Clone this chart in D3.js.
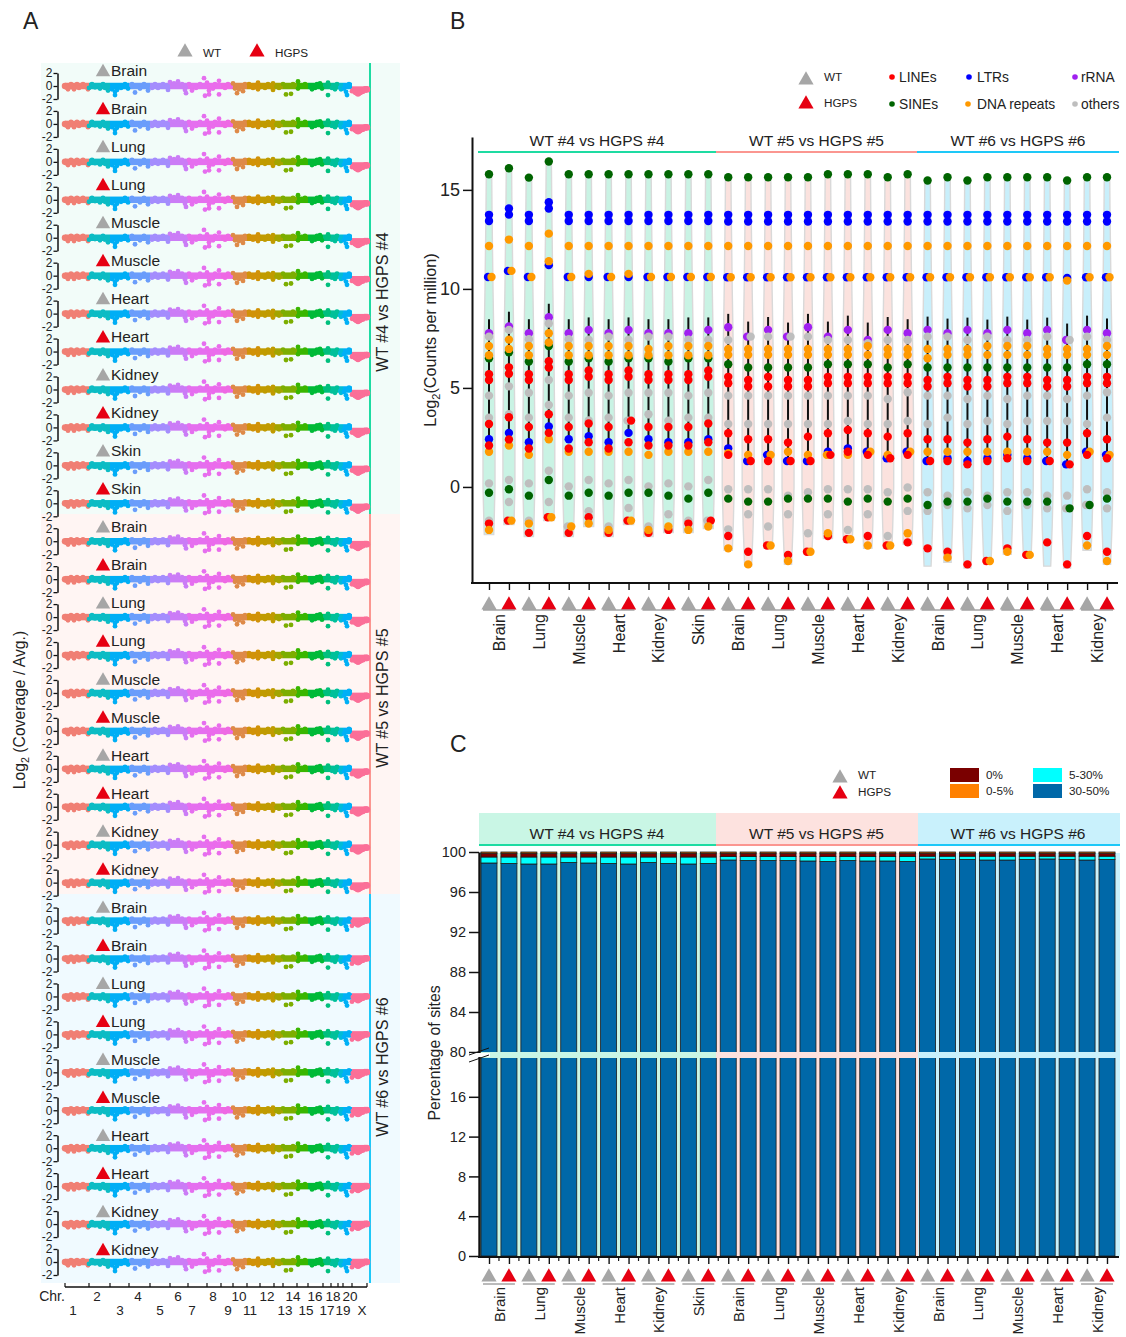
<!DOCTYPE html>
<html>
<head>
<meta charset="utf-8">
<script src="https://cdn.jsdelivr.net/npm/d3@7/dist/d3.min.js"></script>
<style>
body { margin: 0; background: #fff; }
svg { display: block; }
text { font-family: "Liberation Sans", Arial, sans-serif; fill: #222; }
.soft { filter: blur(0.5px); }
</style>
</head>
<body>
<svg id="chart" width="1126" height="1337"></svg>
<script>
// ---- panel A data
var chrNames = ["1","2","3","4","5","6","7","8","9","10","11","12","13","14","15","16","17","18","19","20","X"];
var chrBounds = [0,24,45,64,85,105,123,142,156,168,182,195,209,218,232,243,258,266,273,278,287,302];
var chrLabelAt = [8,32,55,73,95,113,127,148,163,174,185,202,220,228,241,250,262,268,278,285,297];
var chrColors = ["#f07f74","#0cbcc4","#00aef5","#6a9dfb","#a48dfd","#cb7cf6","#e56fef","#ea6cec","#ee69e4","#de8a48","#d19208","#c09b00","#a3a500","#7cae00","#39b600","#00ba38","#00bf7d","#00c09a","#00bcd8","#00b0f6","#fb6f98"];
var rowTissues = ["Brain","Brain","Lung","Lung","Muscle","Muscle","Heart","Heart","Kidney","Kidney","Skin","Skin",
  "Brain","Brain","Lung","Lung","Muscle","Muscle","Heart","Heart","Kidney","Kidney",
  "Brain","Brain","Lung","Lung","Muscle","Muscle","Heart","Heart","Kidney","Kidney"];
var groupNames = ["WT #4 vs HGPS #4","WT #5 vs HGPS #5","WT #6 vs HGPS #6"];
var groupSizes = [12,10,10];
var xLevels = [-0.55,-0.45,0];
// [position along genome, log2 value]
var manhattanBumps = [[1,-0.2],[3,-0.5],[6,0.3],[9,-0.5],[12,0.3],[14,-0.3],[18,0.3],[23,-0.5],[24,-0.3],[27,0.3],[30,-0.2],[35,-0.4],[38,0.3],[40,-0.3],[43,-0.7],[47,-0.5],[50,-0.9],[50,-1.4],[52,-0.6],[56,-0.3],[60,0.3],[63,-0.4],[67,0.3],[70,-1.0],[75,-0.4],[79,0.3],[83,-0.7],[87,-0.3],[90,0.3],[93,-0.3],[98,0.3],
  [103,-0.6],[105,0.6],[109,0.4],[113,0.7],[117,0.3],[120,-0.6],[121,-1.1],[124,0.3],[127,-0.7],[131,-0.3],[135,0.3],[139,1.2],[140,-1.5],[142,0.5],[144,-1.3],[144,-0.7],[148,-0.4],[150,0.3],[154,0.8],[154,-1.3],[160,-0.3],[163,0.3],
  [168,0.4],[170,-0.4],[172,-1.1],[174,-0.5],[178,-0.8],[180,0.3],[184,0.3],[188,-0.3],[193,0.5],[193,-0.5],[200,-0.3],[203,0.3],[208,0.4],[208,-0.6],[214,-0.3],[218,0.3],[221,-1.3],[226,-1.2],[228,0.3],[233,0.7],[233,-0.4],[240,0.3],
  [247,-0.5],[250,-0.3],[252,0.3],[255,0.4],[257,-0.4],[263,0.5],[263,-1.4],[267,-0.3],[270,-0.5],[272,0.3],[276,-0.5],[281,-0.9],[282,-1.4],[279,-0.4],[284,0.3],[287,-0.8]];
// relative to the X chromosome level of the group
var xBumps = [[288,-0.1],[289,-0.2],[290,-0.4],[291,-0.5],[292,-0.6],[293,-0.7],[294,-0.6],[295,-0.5],[296,-0.4],[297,-0.3],[298,-0.3],[300,0.15],[302,0.15]];

// ---- panel B data
var columnTissues = ["Brain","Lung","Muscle","Heart","Kidney","Skin","Brain","Lung","Muscle","Heart","Kidney","Brain","Lung","Muscle","Heart","Kidney"];
var sinesHi = [15.79,16.09,15.62,16.43,15.79,15.79,15.79,15.79,15.79,15.79,15.79,15.79,15.64,15.64,15.64,15.64,15.64,15.79,15.79,15.79,15.64,15.79,15.47,15.64,15.47,15.64,15.64,15.64,15.64,15.47,15.64,15.64];
var sinesMid = [6.5,6.8,6.33,7.12,6.33,6.5,6.33,6.5,6.5,6.33,6.5,6.5,6.2,6.03,6.03,6.03,6.03,6.2,6.2,6.2,6.03,6.2,6.03,6.03,6.03,6.03,6.03,6.03,6.03,6.03,6.2,6.2];
var sinesLo = [-0.29,-0.12,-0.44,0.35,-0.44,-0.29,-0.44,-0.29,-0.29,-0.44,-0.59,-0.29,-0.59,-0.74,-0.74,-0.59,-0.59,-0.59,-0.74,-0.59,-0.74,-0.59,-0.91,-0.74,-0.74,-0.59,-0.74,-0.74,-0.74,-1.08,-0.91,-0.59];
var ltrA = [13.74,14.06,13.74,14.38,13.74,13.74,13.74,13.74,13.74,13.74,13.74,13.74,13.74,13.74,13.74,13.74,13.74,13.74,13.74,13.74,13.74,13.74,13.74,13.74,13.74,13.74,13.74,13.74,13.74,13.74,13.74,13.74];
var ltrB = [13.43,13.75,13.43,14.06,13.43,13.43,13.43,13.43,13.43,13.43,13.43,13.43,13.4,13.4,13.4,13.4,13.4,13.4,13.4,13.4,13.4,13.4,13.4,13.4,13.4,13.4,13.4,13.4,13.4,13.4,13.4,13.4];
var ltrC = [10.6,10.91,10.6,11.2,10.6,10.6,10.6,10.6,10.6,10.6,10.6,10.6,10.59,10.59,10.59,10.59,10.59,10.59,10.59,10.59,10.59,10.59,10.59,10.59,10.59,10.59,10.59,10.59,10.59,10.55,10.59,10.59];
var ltrD = [2.41,2.73,2.26,3.05,2.41,2.56,2.26,2.73,2.41,2.26,2.26,2.41,1.95,1.31,1.62,1.31,1.31,1.78,1.95,1.78,1.45,1.78,1.31,1.45,1.31,1.45,1.62,1.45,1.31,1.14,1.78,1.62];
var dnaA = [12.17,12.49,12.17,12.79,12.17,12.17,12.17,12.17,12.17,12.17,12.17,12.17,12.17,12.17,12.17,12.17,12.17,12.17,12.17,12.17,12.17,12.17,12.17,12.17,12.17,12.17,12.17,12.17,12.17,12.17,12.17,12.17];
var dnaB = [10.6,10.91,10.6,11.4,10.6,10.76,10.6,10.76,10.6,10.6,10.6,10.6,10.59,10.59,10.59,10.59,10.59,10.59,10.59,10.59,10.59,10.59,10.59,10.59,10.59,10.59,10.59,10.59,10.59,10.42,10.59,10.59];
var dnaC = [7.12,7.44,7.12,7.76,7.12,7.12,7.12,7.12,6.97,7.12,7.12,7.12,6.97,6.97,6.97,6.97,6.97,6.97,6.97,7.12,6.97,6.97,6.97,6.97,6.97,7.12,7.12,7.12,6.97,6.97,6.97,7.12];
var dnaD = [6.65,6.97,6.65,7.29,6.65,6.65,6.65,6.65,6.65,6.65,6.65,6.65,6.67,6.67,6.67,6.67,6.67,6.67,6.67,6.67,6.67,6.67,6.5,6.67,6.67,6.67,6.67,6.67,6.67,6.67,6.67,6.67];
var dnaE = [1.78,2.09,1.62,2.41,1.78,1.78,1.78,1.78,1.62,1.78,1.78,1.78,1.7,1.62,1.62,1.78,1.62,1.62,1.62,1.78,1.62,1.78,1.78,1.78,1.78,1.78,1.78,1.78,1.78,1.62,1.78,1.62];
var dnaF = [-2.17,-1.7,-1.85,-1.53,-2,-1.85,-2.17,-1.7,-2.17,-2,-2.17,-2,-3.1,-3.91,-2.96,-3.74,-3.27,-2.34,-2.64,-2.96,-2.96,-2.34,null,-3.57,null,-3.74,-3.27,-3.43,null,null,-2.96,-3.74];
var rrna = [7.76,8.1,7.76,8.57,7.76,7.93,7.76,7.93,7.76,7.76,7.76,7.93,8.06,7.59,7.93,7.59,8.06,7.59,7.93,7.42,7.93,7.76,7.93,7.76,7.93,7.76,7.93,7.76,7.93,7.42,7.93,7.76];
var othersA = [7.59,7.93,7.46,8.25,7.46,7.43,7.59,7.43,7.59,7.59,7.43,7.43,7.42,7.59,7.59,7.59,7.59,7.42,7.42,7.26,7.42,7.42,7.59,7.59,7.42,7.59,7.42,7.42,7.59,7.42,7.59,7.42];
var othersB = [4.61,5.08,4.76,5.4,4.61,4.76,4.61,4.76,4.76,4.76,4.61,4.76,4.61,4.61,4.61,4.61,4.61,4.61,4.61,4.61,4.44,4.78,4.61,4.61,4.44,4.61,4.44,4.61,4.61,4.44,4.61,4.78];
var othersC = [3.5,3.67,3.5,4.14,3.5,3.36,3.5,3.35,3.67,3.35,3.5,3.5,3.18,3.18,3.18,3.18,3.18,3.18,3.33,3.18,3.18,3.33,3.18,3.5,3.18,3.33,3.18,3.33,3.33,3.33,3.18,3.5];
var othersD = [0.18,0.35,0.18,0.82,0.03,0.35,0.18,0.35,0.03,0.18,0.03,0.35,-0.12,-0.12,-0.12,-0.44,-0.27,-0.12,-0.12,-0.12,-0.27,-0.03,-0.27,-0.44,-0.27,-0.44,-0.27,-0.27,-0.44,-0.44,-0.12,-0.27];
var othersE = [-1.7,-0.76,-1.7,-0.76,-2,-1.23,-2,-1.06,-2,-1.38,-1.7,-1.7,-2.14,-1.38,-2,-1.38,-2.34,-1.38,-2.17,-1.38,-2.48,-1.21,-1.21,-0.91,-1.08,-0.91,-1.21,-0.91,-1.08,-1.08,-0.91,-1.08];
var linesA = [5.69,6.04,5.69,6.35,5.69,5.88,5.69,5.88,5.69,5.69,5.69,5.88,5.56,5.4,5.56,5.4,5.4,5.56,5.56,5.56,5.56,5.56,5.4,5.56,5.4,5.4,5.56,5.56,5.4,5.4,5.56,5.56];
var linesB = [5.4,5.72,5.4,6.03,5.4,5.56,5.4,5.56,5.4,5.4,5.4,5.56,5.24,5.07,5.07,5.07,5.07,5.24,5.24,5.24,5.24,5.24,5.07,5.24,5.07,5.07,5.24,5.24,5.07,5.07,5.24,5.24];
var linesC = [3.18,3.52,3.03,3.67,3.03,3.2,3.03,3.35,3.03,3.03,3.03,3.2,2.71,2.41,2.41,2.24,2.54,2.71,2.88,2.71,2.54,2.71,2.41,2.41,2.24,2.41,2.54,2.41,2.24,2.24,2.71,2.41];
var linesD = [2.09,2.4,1.94,2.73,1.94,2.26,1.94,2.26,2.09,2.09,2.09,2.26,1.62,1.31,1.31,1.31,1.31,1.62,1.78,1.62,1.45,1.62,1.31,1.31,1.14,1.31,1.45,1.31,1.31,1.14,1.62,1.45];
var linesE = [-1.85,-1.7,-2.32,-1.53,-2.32,-1.53,-2.32,-1.7,-2.32,-2.17,-1.85,-1.7,-2.48,-3.27,-2.96,-3.43,-3.27,-2.48,-2.64,-2.48,-2.96,-2.8,-3.1,-3.27,-3.91,-3.74,-3.1,-3.43,-2.8,-3.91,-2.48,-3.27];
var boxTop = [8.47,8.85,8.47,9.25,8.47,8.56,8.47,8.56,8.47,8.47,8.56,8.56,8.74,8.35,8.58,8.3,8.74,8.35,8.65,8.3,8.58,8.47,8.6,8.5,8.55,8.45,8.6,8.45,8.55,8.25,8.65,8.5];
var violinLow = [-2.4,-1.9,-2.5,-1.7,-2.5,-2,-2.5,-1.9,-2.5,-2.3,-2.3,-2.1,-3.2,-4,-3.1,-3.9,-3.4,-2.6,-2.8,-3.1,-3.1,-2.9,-4,-3.8,-4.1,-3.9,-3.4,-3.5,-4,-4.1,-3.2,-3.9];

// ---- panel C data
var pct30to50 = [98.9,98.85,98.8,98.8,98.95,98.9,98.85,98.8,98.95,98.85,98.8,98.85,99.2,99.15,99.15,99.15,99.1,99.05,99.15,99.1,99.1,99.05,99.3,99.25,99.25,99.2,99.2,99.25,99.3,99.25,99.2,99.25];
var pct5to30 = [0.6,0.65,0.7,0.7,0.55,0.6,0.65,0.7,0.55,0.65,0.7,0.65,0.35,0.4,0.4,0.4,0.45,0.5,0.4,0.45,0.45,0.5,0.28,0.33,0.33,0.38,0.38,0.33,0.28,0.33,0.38,0.33];
var pct0 = [0.38,0.38,0.38,0.38,0.38,0.38,0.38,0.38,0.38,0.38,0.38,0.38,0.33,0.33,0.33,0.33,0.33,0.33,0.33,0.33,0.33,0.33,0.3,0.3,0.3,0.3,0.3,0.3,0.3,0.3,0.3,0.3];
var pct0to5 = [0.12,0.12,0.12,0.12,0.12,0.12,0.12,0.12,0.12,0.12,0.12,0.12,0.12,0.12,0.12,0.12,0.12,0.12,0.12,0.12,0.12,0.12,0.12,0.12,0.12,0.12,0.12,0.12,0.12,0.12,0.12,0.12];

var GREY = "#a6a6a6", RED = "#e60012";
var groupLine = ["#1edba2","#fb9690","#1ec8f8"];
var panelABg = ["#f2fcf9","#fff5f3","#f0faff"];
var violinFill = ["#c9f3e4","#fbe2de","#c8effb"];
var headerBg = ["#c9f6e5","#fde2df","#c9f1fc"];
var groupX = [[478,716],[716,917],[917,1119]];
var triangle = d3.symbol().type(d3.symbolTriangle);

var svg = d3.select("#chart");

function addText(g, x, y, str, size, anchor) {
	return g.append("text").attr("x", x).attr("y", y)
		.attr("font-size", size).attr("text-anchor", anchor || "start").text(str);
}

function addTriangle(g, x, y, color, size) {
	g.append("path").attr("d", triangle.size(size)()).attr("fill", color)
		.attr("transform", "translate(" + x + "," + y + ")");
}

function addRotated(g, x, y, str, size, anchor) {
	return g.append("text").attr("transform", "translate(" + x + "," + y + ") rotate(-90)")
		.attr("font-size", size).attr("text-anchor", anchor || "middle").text(str);
}

function log2Label(g, x, y, before, after, size) {
	var t = addRotated(g, x, y, before, size);
	t.append("tspan").attr("font-size", size * 0.68).attr("dy", 4).text("2");
	t.append("tspan").attr("dy", -4).text(after);
}

addText(svg, 23, 29, "A", 23);
addText(svg, 450, 29, "B", 23);
addText(svg, 450, 752, "C", 23);

drawPanelA();
drawPanelB();
drawPanelC();

function drawPanelA() {
	var g = svg.append("g");
	var bgY = [63,514,894,1283];
	var lineColors = groupLine;
	groupNames.forEach(function(name, i) {
		g.append("rect").attr("x", 41).attr("y", bgY[i]).attr("width", 359)
			.attr("height", bgY[i + 1] - bgY[i]).attr("fill", panelABg[i]);
		g.append("line").attr("x1", 370).attr("x2", 370).attr("y1", bgY[i]).attr("y2", bgY[i + 1])
			.attr("stroke", lineColors[i]).attr("stroke-width", 2);
	});
	addRotated(g, 388, 302, groupNames[0], 16);
	addRotated(g, 388, 698, groupNames[1], 16);
	addRotated(g, 388, 1067, groupNames[2], 16);

	// legend
	addTriangle(g, 185, 52, GREY, 100);
	addText(g, 203, 57, "WT", 11.7);
	addTriangle(g, 257, 52, RED, 100);
	addText(g, 275, 57, "HGPS", 11.7);

	log2Label(g, 25, 710, "Log", " (Coverage / Avg.)", 15.7);

	var xPos = d3.scaleLinear().domain([0, 302]).range([65, 367]);
	var rowY = d3.scaleLinear().domain([0, 31]).range([86, 1262]);
	var labelY = d3.scaleLinear().domain([0, 31]).range([71, 1250]);

	rowTissues.forEach(function(tissue, r) {
		var group = r < 12 ? 0 : (r < 22 ? 1 : 2);
		var y0 = rowY(r);
		var yVal = d3.scaleLinear().domain([-2, 2]).range([y0 + 13, y0 - 13]);
		var row = g.append("g");
		var marks = row.append("g").attr("class", "soft");

		chrNames.forEach(function(chr, c) {
			var lvl = chr == "X" ? xLevels[group] : 0;
			marks.append("line").attr("x1", xPos(chrBounds[c])).attr("x2", xPos(chrBounds[c + 1]))
				.attr("y1", yVal(lvl)).attr("y2", yVal(lvl))
				.attr("stroke", chrColors[c]).attr("stroke-width", 6.5);
		});
		marks.append("circle").attr("cx", xPos(0)).attr("cy", y0).attr("r", 3.25).attr("fill", chrColors[0]);
		marks.append("circle").attr("cx", xPos(302)).attr("cy", yVal(xLevels[group])).attr("r", 3.25).attr("fill", chrColors[20]);

		marks.selectAll("circle.bump").data(manhattanBumps).enter().append("circle")
			.attr("class", "bump")
			.attr("cx", function(d) { return xPos(d[0]); })
			.attr("cy", function(d) { return yVal(d[1]); })
			.attr("r", 2.4)
			.attr("fill", function(d) { return chrColors[d3.bisectRight(chrBounds, d[0]) - 1]; });
		marks.selectAll("circle.xbump").data(xBumps).enter().append("circle")
			.attr("class", "xbump")
			.attr("cx", function(d) { return xPos(d[0]); })
			.attr("cy", function(d) { return yVal(xLevels[group] + d[1]); })
			.attr("r", 2.5)
			.attr("fill", chrColors[20]);

		var ax = row.append("g").attr("transform", "translate(57.5,0)")
			.call(d3.axisLeft(yVal).tickValues([-2, 0, 2]).tickSize(4).tickSizeOuter(0).tickPadding(1).tickFormat(String));
		ax.selectAll("text").attr("font-size", 12).attr("font-family", "Liberation Sans").attr("fill", "#222");
		ax.selectAll("line").attr("stroke", "#111").attr("stroke-width", 1.3);
		ax.select(".domain").attr("stroke", "#111").attr("stroke-width", 1.5);

		addTriangle(row, 103, labelY(r) + 1, r % 2 ? RED : GREY, 90);
		addText(row, 111, labelY(r) + 5, tissue, 15.5);
	});

	// chromosome axis
	var chrAxis = g.append("g").attr("transform", "translate(0,1287)");
	chrAxis.append("line").attr("x1", xPos(0)).attr("x2", xPos(302)).attr("stroke", "#111").attr("stroke-width", 1.4);
	chrAxis.selectAll("line.tick").data(chrBounds).enter().append("line")
		.attr("class", "tick")
		.attr("x1", function(d) { return xPos(d); }).attr("x2", function(d) { return xPos(d); })
		.attr("y1", -4).attr("y2", 0).attr("stroke", "#111").attr("stroke-width", 1.2);
	addText(g, 52, 1301, "Chr.", 14, "middle");
	chrNames.forEach(function(chr, c) {
		addText(g, xPos(chrLabelAt[c]), c % 2 ? 1301 : 1315, chr, 13.5, "middle");
	});
}

function drawPanelB() {
	var g = svg.append("g");
	var colX = d3.scalePoint().domain(d3.range(32)).range([489, 1107]);
	var yB = d3.scaleLinear().domain([-4.85, 17.67]).range([583, 137]);
	var halfWidth = d3.scaleLinear().domain([17, 14, 10, 7, 3, 0, -2, -4]).range([2.5, 3, 4, 5, 6, 6, 5, 3.5]);

	var classes = [
		{color: "#a020f0", series: [rrna]},
		{color: "#bebebe", series: [othersA, othersB, othersC, othersD, othersE]},
		{color: "#006400", series: [sinesHi, sinesMid, sinesLo]},
		{color: "#0000ff", series: [ltrA, ltrB, ltrC, ltrD]},
		{color: "#ff9900", series: [dnaA, dnaB, dnaC, dnaD, dnaE]},
		{color: "#ff0000", series: [linesA, linesB, linesC, linesD, linesE]},
		{color: "#ff9900", series: [dnaF]}
	];

	d3.range(32).forEach(function(c) {
		var group = c < 12 ? 0 : (c < 22 ? 1 : 2);
		var top = sinesHi[c], low = violinLow[c];
		var nodes = [top].concat(halfWidth.domain().filter(function(v) { return v < top && v > low; })).concat([low]);
		var area = d3.area()
			.y(function(v) { return yB(v); })
			.x0(function(v) { return colX(c) - halfWidth(v); })
			.x1(function(v) { return colX(c) + halfWidth(v); });
		g.append("path").attr("d", area(nodes)).attr("fill", violinFill[group])
			.attr("stroke", "#d9d9d9").attr("stroke-width", 1.4);
		g.append("line").attr("x1", colX(c)).attr("x2", colX(c))
			.attr("y1", yB(boxTop[c])).attr("y2", yB(ltrD[c]))
			.attr("stroke", "#111").attr("stroke-width", 2);
	});

	d3.range(32).forEach(function(c) {
		// points with the same value are pushed apart
		var seen = {};
		classes.forEach(function(cl) {
			cl.series.forEach(function(s) {
				if (s[c] !== null) {
					if (!seen[s[c]]) seen[s[c]] = [];
					seen[s[c]].push(s);
				}
			});
		});
		classes.forEach(function(cl) {
			cl.series.forEach(function(s) {
				if (s[c] === null) return;
				var same = seen[s[c]];
				var dx = same.length > 1 ? (same.indexOf(s) == 0 ? -1 : 2.5) : 0;
				g.append("circle").attr("cx", colX(c) + dx).attr("cy", yB(s[c])).attr("r", 4.2).attr("fill", cl.color);
			});
		});
	});

	// axes
	var ax = g.append("g").attr("transform", "translate(472,0)")
		.call(d3.axisLeft(yB).tickValues([0, 5, 10, 15]).tickSize(9).tickSizeOuter(0).tickPadding(3).tickFormat(String));
	ax.selectAll("text").attr("font-size", 18).attr("font-family", "Liberation Sans").attr("fill", "#222");
	ax.selectAll("line").attr("stroke", "#111").attr("stroke-width", 1.5);
	ax.select(".domain").attr("stroke", "#111").attr("stroke-width", 2);

	g.append("line").attr("x1", 471).attr("x2", 1118).attr("y1", 583).attr("y2", 583).attr("stroke", "#111").attr("stroke-width", 2);
	var bx = g.append("g").attr("transform", "translate(0,583)")
		.call(d3.axisBottom(colX).tickSize(7).tickFormat(""));
	bx.select(".domain").remove();
	bx.selectAll("line").attr("stroke", "#111").attr("stroke-width", 1.4);

	columnTrianglesAndLabels(g, colX, 605, 610, 614, 16);

	log2Label(g, 436, 340, "Log", "(Counts per million)", 16.2);

	// group headers
	groupNames.forEach(function(name, i) {
		g.append("line").attr("x1", groupX[i][0]).attr("x2", groupX[i][1]).attr("y1", 152).attr("y2", 152)
			.attr("stroke", groupLine[i]).attr("stroke-width", 2);
		addText(g, (groupX[i][0] + groupX[i][1]) / 2, 146, name, 15.5, "middle");
	});

	// legend
	addTriangle(g, 806, 80, GREY, 100);
	addText(g, 824, 81, "WT", 11.7);
	addTriangle(g, 806, 104, RED, 100);
	addText(g, 824, 107, "HGPS", 11.7);
	var legendDots = [
		[892,77,"#ff0000","LINEs",899],[892,104,"#006400","SINEs",899],
		[969,77,"#0000ff","LTRs",977],[968,104,"#ff9900","DNA repeats",977],
		[1075,77,"#a020f0","rRNA",1081],[1075,104,"#bebebe","others",1081]
	];
	legendDots.forEach(function(d) {
		g.append("circle").attr("cx", d[0]).attr("cy", d[1]).attr("r", 2.8).attr("fill", d[2]);
		addText(g, d[4], d[1] + 5, d[3], 13.8);
	});
}

function columnTrianglesAndLabels(g, colX, triY, underY, labelY, fontSize) {
	d3.range(32).forEach(function(c) {
		addTriangle(g, colX(c), triY, c % 2 ? RED : GREY, 100);
	});
	columnTissues.forEach(function(tissue, k) {
		var c = k * 2;
		g.append("line").attr("x1", colX(c) - 6).attr("x2", colX(c + 1) + 6).attr("y1", underY).attr("y2", underY)
			.attr("stroke", "#777").attr("stroke-width", 1);
		addRotated(g, (colX(c) + colX(c + 1)) / 2 + 6, labelY, tissue, fontSize, "end");
	});
}

function drawPanelC() {
	var g = svg.append("g");
	var colX = d3.scalePoint().domain(d3.range(32)).range([489, 1107]);
	var yC = d3.scaleLinear().domain([0, 19.9, 80, 100]).range([1256, 1058, 1052, 852]);
	var bgX = [[479,716],[716,918],[918,1120]];
	var stackKeys = ["pct30to50","pct5to30","pct0","pct0to5"];
	var stackColors = {pct30to50: "#0068a8", pct5to30: "#00ffff", pct0: "#7a0000", pct0to5: "#ff8000"};

	var rows = d3.range(32).map(function(c) {
		return {c: c, pct30to50: pct30to50[c], pct5to30: pct5to30[c], pct0: pct0[c], pct0to5: pct0to5[c]};
	});
	var stacked = d3.stack().keys(stackKeys)(rows);

	groupNames.forEach(function(name, i) {
		g.append("rect").attr("x", bgX[i][0]).attr("y", 813).attr("width", bgX[i][1] - bgX[i][0]).attr("height", 31)
			.attr("fill", headerBg[i]);
		g.append("rect").attr("x", bgX[i][0]).attr("y", 853).attr("width", bgX[i][1] - bgX[i][0]).attr("height", 403)
			.attr("fill", headerBg[i]);
		g.append("line").attr("x1", bgX[i][0]).attr("x2", bgX[i][1]).attr("y1", 845).attr("y2", 845)
			.attr("stroke", groupLine[i]).attr("stroke-width", 2);
		addText(g, (groupX[i][0] + groupX[i][1]) / 2, 839, name, 15.5, "middle");
	});

	stacked.forEach(function(layer) {
		g.selectAll("rect.s" + layer.key).data(layer).enter().append("rect")
			.attr("class", "s" + layer.key)
			.attr("x", function(d) { return colX(d.data.c) - 8; })
			.attr("width", 16)
			.attr("y", function(d) { return yC(d[1]); })
			.attr("height", function(d) { return yC(d[0]) - yC(d[1]); })
			.attr("fill", stackColors[layer.key])
			.attr("stroke", "#1c1c1c").attr("stroke-width", 0.8);
	});

	// axis break strip
	groupNames.forEach(function(name, i) {
		g.append("rect").attr("x", bgX[i][0]).attr("y", 1052).attr("width", bgX[i][1] - bgX[i][0]).attr("height", 6)
			.attr("fill", headerBg[i]);
	});

	var ax = g.append("g").attr("transform", "translate(479,0)")
		.call(d3.axisLeft(yC).tickValues([0, 4, 8, 12, 16, 80, 84, 88, 92, 96, 100]).tickSize(10).tickSizeOuter(0).tickPadding(3).tickFormat(String));
	ax.selectAll("text").attr("font-size", 14.5).attr("font-family", "Liberation Sans").attr("fill", "#222");
	ax.selectAll("line").attr("stroke", "#111").attr("stroke-width", 1.5);
	ax.select(".domain").attr("stroke", "#111").attr("stroke-width", 2.4);
	g.append("rect").attr("x", 470).attr("y", 1053).attr("width", 20).attr("height", 4).attr("fill", "#fff");
	g.append("line").attr("x1", 469).attr("y1", 1055).attr("x2", 489).attr("y2", 1048).attr("stroke", "#111").attr("stroke-width", 1);
	g.append("line").attr("x1", 469).attr("y1", 1062).attr("x2", 489).attr("y2", 1055).attr("stroke", "#111").attr("stroke-width", 1);

	g.append("line").attr("x1", 478).attr("x2", 1119).attr("y1", 1257).attr("y2", 1257).attr("stroke", "#111").attr("stroke-width", 2);
	var bx = g.append("g").attr("transform", "translate(0,1257)")
		.call(d3.axisBottom(colX).tickSize(7).tickFormat(""));
	bx.select(".domain").remove();
	bx.selectAll("line").attr("stroke", "#111").attr("stroke-width", 1.4);
	// small ticks between the columns
	d3.range(31).forEach(function(c) {
		var mx = (colX(c) + colX(c + 1)) / 2;
		g.append("line").attr("x1", mx).attr("x2", mx).attr("y1", 1257).attr("y2", 1261).attr("stroke", "#111").attr("stroke-width", 1.2);
	});

	columnTrianglesAndLabels(g, colX, 1277, 1284, 1287, 15);

	addRotated(g, 440, 1053, "Percentage of sites", 15.8);

	// legend
	addTriangle(g, 840, 778, GREY, 100);
	addText(g, 858, 779, "WT", 11.7);
	addTriangle(g, 840, 794, RED, 100);
	addText(g, 858, 796, "HGPS", 11.7);
	var swatches = [
		[950,768,"#7a0000","0%",986],[950,784,"#ff8000","0-5%",986],
		[1033,768,"#00ffff","5-30%",1069],[1033,784,"#0068a8","30-50%",1069]
	];
	swatches.forEach(function(d) {
		g.append("rect").attr("x", d[0]).attr("y", d[1]).attr("width", 29).attr("height", 14).attr("fill", d[2]);
		addText(g, d[4], d[1] + 11, d[3], 11.7);
	});
}
</script>
</body>
</html>
